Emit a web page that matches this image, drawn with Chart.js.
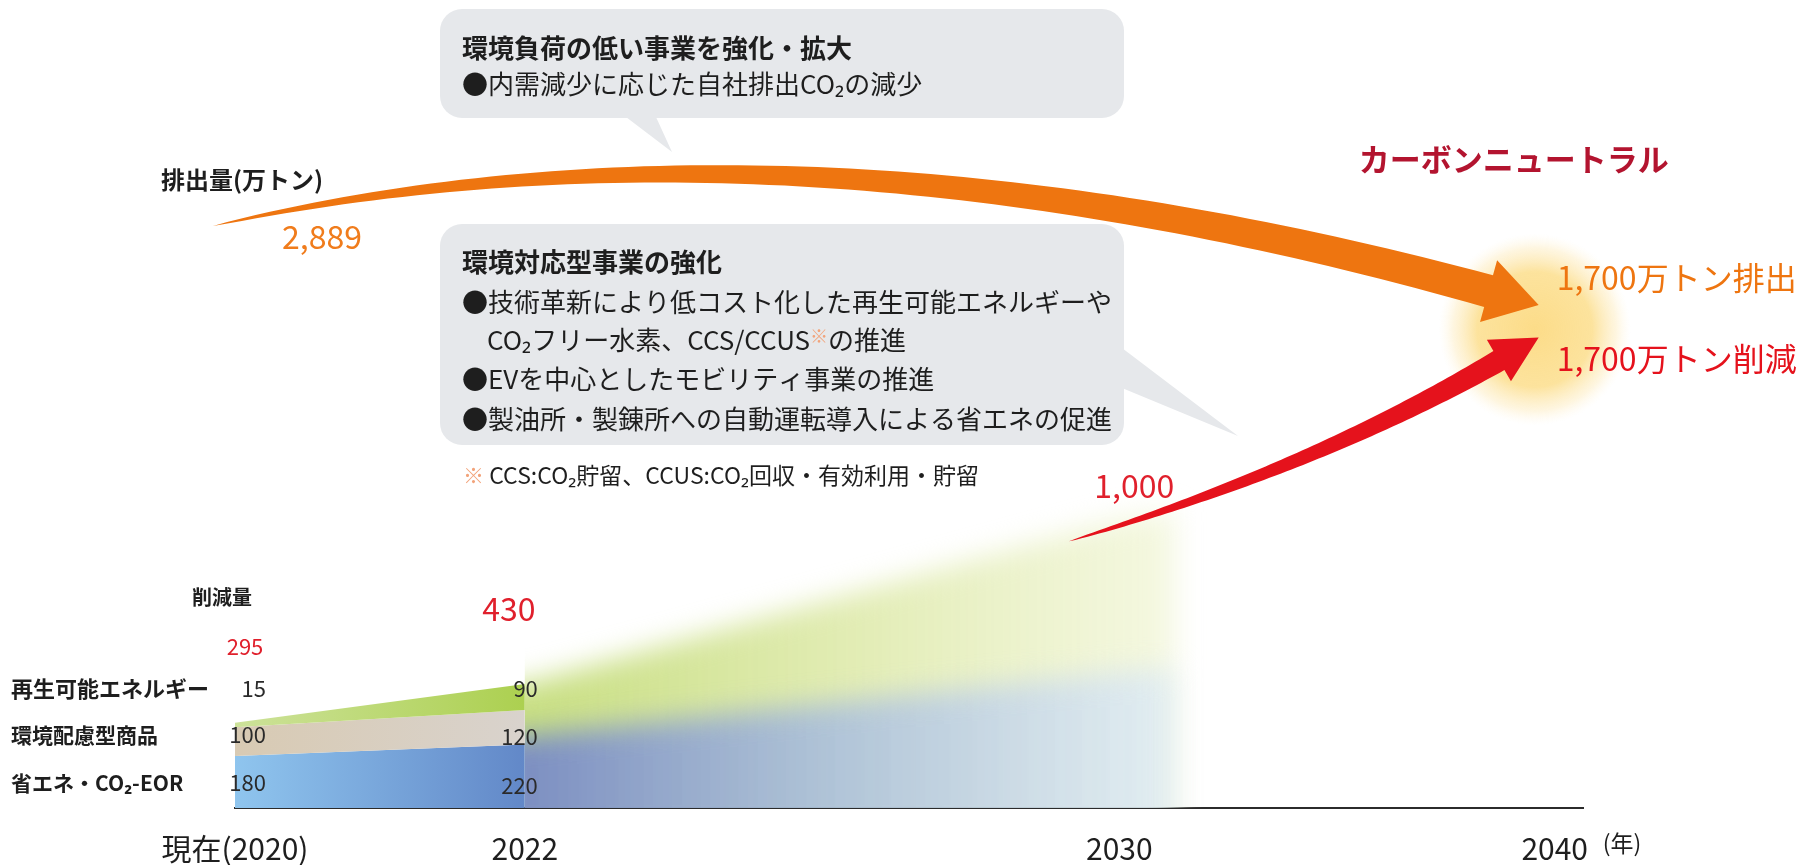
<!DOCTYPE html>
<html>
<head>
<meta charset="utf-8">
<script src="https://cdn.jsdelivr.net/npm/chart.js@4.4.0/dist/chart.umd.min.js"></script>
<style>
  html, body { margin: 0; padding: 0; background: #fff; }
  #wrap { width: 1802px; height: 865px; }
</style>
</head>
<body>
<div id="wrap"><canvas id="roadmapChart" width="1802" height="865"></canvas></div>
<script>
// ===== DATA =====
const years = [2020, 2022, 2030, 2040];
const yearLabels = ['現在(2020)', '2022', '2030', '2040'];

// reduction breakdown (万トン)
const stackYears = [2020, 2022];
const energySaving = [180, 220];   // 省エネ・CO2-EOR
const ecoProducts = [100, 120];    // 環境配慮型商品
const renewables = [15, 90];       // 再生可能エネルギー

// total reduction path
const reductionYears = [2020, 2022, 2030, 2040];
const reductionTotal = [295, 430, 1000, 1700];

// faded outlook band 2022 -> 2030
const futureYears = [2022, 2030];
const futureBase = [250, 470];
const futureTotal = [430, 1000];

// emissions (万トン)
const emissionYears = [2020, 2040];
const emissions = [2889, 1700];

const FONT = '"Noto Sans CJK JP", "Noto Sans", sans-serif';
const ORANGE = '#ee7510';
const RED = '#e5121c';

// the year axis is not to scale in the original: piecewise positions (fraction of width)
const YEAR_BREAKS = [[2020, 0], [2022, 0.215], [2030, 0.656], [2040, 0.979]];

class BrokenYearScale extends Chart.LinearScale {
    _frac(v) {
        let i = 0;
        while (i < YEAR_BREAKS.length - 2 && v > YEAR_BREAKS[i + 1][0]) i++;
        const [v0, f0] = YEAR_BREAKS[i], [v1, f1] = YEAR_BREAKS[i + 1];
        return f0 + (v - v0) / (v1 - v0) * (f1 - f0);
    }
    getPixelForValue(v) { return this.left + this._frac(v) * this.width; }
    getValueForPixel(p) {
        const f = (p - this.left) / this.width;
        let i = 0;
        while (i < YEAR_BREAKS.length - 2 && f > YEAR_BREAKS[i + 1][1]) i++;
        const [v0, f0] = YEAR_BREAKS[i], [v1, f1] = YEAR_BREAKS[i + 1];
        return v0 + (f - f0) / (f1 - f0) * (v1 - v0);
    }
}
BrokenYearScale.id = 'brokenYear';
BrokenYearScale.defaults = {};
Chart.register(BrokenYearScale);

const pts = (xs, ys) => xs.map((x, i) => ({ x, y: ys[i] }));
const cumEnergy = energySaving.slice();
const cumEco = energySaving.map((v, i) => v + ecoProducts[i]);
const cumRenew = cumEco.map((v, i) => v + renewables[i]);
const fmt = v => v.toLocaleString('en-US');

function hGrad(c0, c1) {
    return (context) => {
        const chart = context.chart;
        if (!chart.chartArea) return c0;
        const xs = chart.scales.x;
        const g = chart.ctx.createLinearGradient(xs.getPixelForValue(stackYears[0]), 0, xs.getPixelForValue(stackYears[1]), 0);
        g.addColorStop(0, c0);
        g.addColorStop(1, c1);
        return g;
    };
}

function taperArrow(ctx, p0, c, tip, w0, w1, headW, headL, color) {
    let dx = tip.x - c.x, dy = tip.y - c.y;
    const d = Math.hypot(dx, dy); dx /= d; dy /= d;
    const base = { x: tip.x - dx * headL, y: tip.y - dy * headL };
    const N = 80, left = [], right = [];
    for (let i = 0; i <= N; i++) {
        const t = i / N, u = 1 - t;
        const x = u * u * p0.x + 2 * u * t * c.x + t * t * base.x;
        const y = u * u * p0.y + 2 * u * t * c.y + t * t * base.y;
        let tx = 2 * u * (c.x - p0.x) + 2 * t * (base.x - c.x);
        let ty = 2 * u * (c.y - p0.y) + 2 * t * (base.y - c.y);
        const tl = Math.hypot(tx, ty); tx /= tl; ty /= tl;
        const w = (w0 + (w1 - w0) * Math.pow(t, 0.7)) / 2;
        left.push([x - ty * w, y + tx * w]);
        right.push([x + ty * w, y - tx * w]);
    }
    const nx = -dy, ny = dx;
    ctx.beginPath();
    ctx.moveTo(left[0][0], left[0][1]);
    left.forEach(p => ctx.lineTo(p[0], p[1]));
    ctx.lineTo(base.x + nx * headW / 2, base.y + ny * headW / 2);
    ctx.lineTo(tip.x, tip.y);
    ctx.lineTo(base.x - nx * headW / 2, base.y - ny * headW / 2);
    for (let i = N; i >= 0; i--) ctx.lineTo(right[i][0], right[i][1]);
    ctx.closePath();
    ctx.fillStyle = color;
    ctx.fill();
}

function roundRect(ctx, x, y, w, h, r) {
    ctx.beginPath();
    ctx.moveTo(x + r, y);
    ctx.arcTo(x + w, y, x + w, y + h, r);
    ctx.arcTo(x + w, y + h, x, y + h, r);
    ctx.arcTo(x, y + h, x, y, r);
    ctx.arcTo(x, y, x + w, y, r);
    ctx.closePath();
}

function txt(ctx, s, x, y, size, color, opts = {}) {
    ctx.font = `${opts.bold ? 'bold ' : ''}${size}px ${FONT}`;
    ctx.fillStyle = color;
    ctx.textAlign = opts.align || 'left';
    ctx.textBaseline = 'middle';
    ctx.fillText(s, x, y);
    return ctx.measureText(s).width;
}

const pt = (chart, ds, i) => chart.getDatasetMeta(ds).data[i];

const decor = {
    id: 'decor',
    beforeDatasetsDraw(chart) {
        const { ctx, scales } = chart;
        const bottom = scales.y.getPixelForValue(0);

        // glow where both arrows meet
        const meet = pt(chart, 3, 3);
        const gx = meet.x - 20, gy = meet.y + 12;
        const rg = ctx.createRadialGradient(gx, gy, 0, gx, gy, 96);
        rg.addColorStop(0, 'rgba(252,218,130,0.95)');
        rg.addColorStop(0.6, 'rgba(252,222,140,0.85)');
        rg.addColorStop(0.85, 'rgba(253,232,178,0.4)');
        rg.addColorStop(1, 'rgba(255,245,220,0)');
        ctx.fillStyle = rg;
        ctx.beginPath(); ctx.arc(gx, gy, 96, 0, Math.PI * 2); ctx.fill();

        // speech bubbles
        ctx.fillStyle = '#e6e8eb';
        roundRect(ctx, 440, 9, 684, 109, 22); ctx.fill();
        ctx.beginPath(); ctx.moveTo(626, 117); ctx.lineTo(656, 117); ctx.lineTo(672, 152); ctx.closePath(); ctx.fill();
        roundRect(ctx, 440, 224, 684, 221, 22); ctx.fill();
        ctx.beginPath(); ctx.moveTo(1122, 348); ctx.lineTo(1122, 388); ctx.lineTo(1238, 436); ctx.closePath(); ctx.fill();

        // faded outlook band
        const fb = chart.getDatasetMeta(4).data, ft = chart.getDatasetMeta(5).data;
        const x0 = fb[0].x, x1 = fb[1].x;
        ctx.save();
        ctx.beginPath(); ctx.rect(x0, 0, chart.width, bottom); ctx.clip();
        ctx.filter = 'blur(14px)';
        const gGreen = ctx.createLinearGradient(x0, 0, x1 + 60, 0);
        gGreen.addColorStop(0, 'rgba(192,218,112,0.88)');
        gGreen.addColorStop(0.5, 'rgba(216,230,155,0.75)');
        gGreen.addColorStop(1, 'rgba(238,243,205,0.6)');
        ctx.fillStyle = gGreen;
        ctx.beginPath();
        ctx.moveTo(x0 - 30, bottom + 30);
        ctx.lineTo(x0 - 30, ft[0].y);
        ctx.lineTo(x0, ft[0].y);
        ctx.lineTo(x1, ft[1].y);
        ctx.lineTo(x1 + 55, ft[1].y - 8);
        ctx.lineTo(x1 + 55, bottom + 30);
        ctx.closePath(); ctx.fill();
        const gBlue = ctx.createLinearGradient(x0, 0, x1 + 60, 0);
        gBlue.addColorStop(0, 'rgba(118,136,200,0.92)');
        gBlue.addColorStop(0.45, 'rgba(162,184,224,0.8)');
        gBlue.addColorStop(1, 'rgba(222,236,248,0.75)');
        ctx.fillStyle = gBlue;
        ctx.beginPath();
        ctx.moveTo(x0 - 30, bottom + 30);
        ctx.lineTo(x0 - 30, fb[0].y);
        ctx.lineTo(x0, fb[0].y);
        ctx.lineTo(x1, fb[1].y);
        ctx.lineTo(x1 + 55, fb[1].y - 4);
        ctx.lineTo(x1 + 55, bottom + 30);
        ctx.closePath(); ctx.fill();
        ctx.restore();
    },
    afterDatasetsDraw(chart) {
        const { ctx } = chart;
        // emissions arrow
        const e0 = pt(chart, 6, 0), e1 = pt(chart, 6, 1);
        const p0 = { x: e0.x - 22, y: e0.y };
        const tipO = { x: e1.x - 16, y: e1.y };
        const cO = { x: p0.x + 0.43 * (tipO.x - p0.x), y: p0.y - 130 };
        taperArrow(ctx, p0, cO, tipO, 0, 33, 64, 52, ORANGE);

        // reduction arrow
        const r0 = pt(chart, 3, 2), r1 = pt(chart, 3, 3);
        const tipR = { x: r1.x - 16, y: r1.y + 20 };
        const vx = tipR.x - r0.x, vy = tipR.y - r0.y, vl = Math.hypot(vx, vy);
        const tail = { x: r0.x - 0.12 * vx, y: r0.y - 0.12 * vy };
        const cR = { x: (tail.x + tipR.x) / 2 + 30 * (-vy / vl), y: (tail.y + tipR.y) / 2 + 30 * (vx / vl) };
        taperArrow(ctx, tail, cR, tipR, 0, 22, 48, 46, RED);
    },
    afterDraw(chart) {
        const { ctx, scales } = chart;
        const x20 = scales.x.getPixelForValue(2020), x22 = scales.x.getPixelForValue(2022), x40 = scales.x.getPixelForValue(2040);
        ctx.save();

        // bubble 1
        txt(ctx, '環境負荷の低い事業を強化・拡大', 462, 48, 26, '#1e1e1e', { bold: true });
        txt(ctx, '●内需減少に応じた自社排出CO₂の減少', 462, 84, 26, '#1e1e1e');
        // bubble 2
        txt(ctx, '環境対応型事業の強化', 462, 262, 26, '#1e1e1e', { bold: true });
        txt(ctx, '●技術革新により低コスト化した再生可能エネルギーや', 462, 302, 26, '#1e1e1e');
        let w = txt(ctx, 'CO₂フリー水素、CCS/CCUS', 487, 340, 26, '#1e1e1e');
        const w2 = txt(ctx, '※', 487 + w, 336, 18, '#f2a37a');
        txt(ctx, 'の推進', 487 + w + w2, 340, 26, '#1e1e1e');
        txt(ctx, '●EVを中心としたモビリティ事業の推進', 462, 379, 26, '#1e1e1e');
        txt(ctx, '●製油所・製錬所への自動運転導入による省エネの促進', 462, 419, 26, '#1e1e1e');
        w = txt(ctx, '※', 463, 475, 21, '#f2a37a');
        txt(ctx, ' CCS:CO₂貯留、CCUS:CO₂回収・有効利用・貯留', 463 + w, 475, 23, '#1e1e1e');

        // emissions labels
        const e0 = pt(chart, 6, 0), e1 = pt(chart, 6, 1);
        txt(ctx, '排出量(万トン)', 161, 180, 24, '#1e1e1e', { bold: true });
        txt(ctx, fmt(emissions[0]), e0.x + 87, e0.y + 11, 32, '#f07c1c', { align: 'center' });
        txt(ctx, 'カーボンニュートラル', x40 - 41, 159, 31, '#b3142f', { bold: true, align: 'center' });
        txt(ctx, fmt(emissions[1]) + '万トン排出', x40 + 2, e1.y - 27, 32, ORANGE);
        const r3 = pt(chart, 3, 3);
        txt(ctx, fmt(reductionTotal[3]) + '万トン削減', x40 + 2, r3.y + 41, 32, RED);

        // reduction labels
        const r2 = pt(chart, 3, 2);
        txt(ctx, fmt(reductionTotal[2]), r2.x + 15, r2.y - 34, 32, '#e0202c', { align: 'center' });
        txt(ctx, fmt(reductionTotal[1]), x22 - 16, 609, 32, '#e0202c', { align: 'center' });
        txt(ctx, fmt(reductionTotal[0]), x20 + 10, 647, 22, '#e0202c', { align: 'center' });
        txt(ctx, '削減量', 222, 597, 20, '#1e1e1e', { bold: true, align: 'center' });

        const rows = [['再生可能エネルギー', renewables, 689, 689, 22], ['環境配慮型商品', ecoProducts, 735, 737, 21], ['省エネ・CO₂-EOR', energySaving, 783, 786, 21]];
        rows.forEach(([name, vals, y0, y1, fs]) => {
            txt(ctx, name, 11, y0, fs, '#1e1e1e', { bold: true });
            txt(ctx, String(vals[0]), x20 + 31, y0, 22, '#2a2a2a', { align: 'right' });
            txt(ctx, String(vals[1]), x22 + 13, y1, 22, '#2a2a2a', { align: 'right' });
        });

        txt(ctx, '(年)', x40 + 48, 843, 23, '#1e1e1e');
        ctx.restore();
    }
};

new Chart(document.getElementById('roadmapChart'), {
    type: 'line',
    data: {
        datasets: [
            { label: '省エネ・CO₂-EOR', data: pts(stackYears, cumEnergy), fill: 'origin', backgroundColor: hGrad('#8fc5ee', '#6288c8'), borderWidth: 0, pointRadius: 0, order: 3 },
            { label: '環境配慮型商品', data: pts(stackYears, cumEco), fill: '-1', backgroundColor: hGrad('#d8cab3', '#d9d3cd'), borderWidth: 0, pointRadius: 0, order: 2 },
            { label: '再生可能エネルギー', data: pts(stackYears, cumRenew), fill: '-1', backgroundColor: hGrad('#cde29a', '#acd050'), borderWidth: 0, pointRadius: 0, order: 1 },
            { label: '削減量', data: pts(reductionYears, reductionTotal), showLine: false, pointRadius: 0 },
            { label: 'outlook base', data: pts(futureYears, futureBase), showLine: false, pointRadius: 0 },
            { label: 'outlook total', data: pts(futureYears, futureTotal), showLine: false, pointRadius: 0 },
            { label: '排出量', data: pts(emissionYears, emissions), yAxisID: 'yEmit', showLine: false, pointRadius: 0 }
        ]
    },
    options: {
        responsive: false,
        animation: false,
        devicePixelRatio: 1,
        layout: { padding: { left: 235, right: 219, top: 0, bottom: 0 } },
        plugins: { legend: { display: false }, tooltip: { enabled: false } },
        scales: {
            x: {
                type: 'brokenYear',
                min: 2020, max: 2040,
                z: 1,
                afterBuildTicks: (axis) => { axis.ticks = years.map(v => ({ value: v })); },
                afterFit: (axis) => { axis.height = 57; },
                grid: { display: false, drawTicks: false },
                border: { display: true, color: '#2b2b2b', width: 2 },
                ticks: {
                    autoSkip: false, maxRotation: 0, minRotation: 0, padding: 23,
                    color: '#1e1e1e',
                    font: { family: FONT, size: 30 },
                    callback: (v) => yearLabels[years.indexOf(v)]
                }
            },
            y: { display: false, min: 0, max: 2800 },
            yEmit: { display: false, min: -5871, max: 6290 }
        }
    },
    plugins: [decor]
});
</script>
</body>
</html>
